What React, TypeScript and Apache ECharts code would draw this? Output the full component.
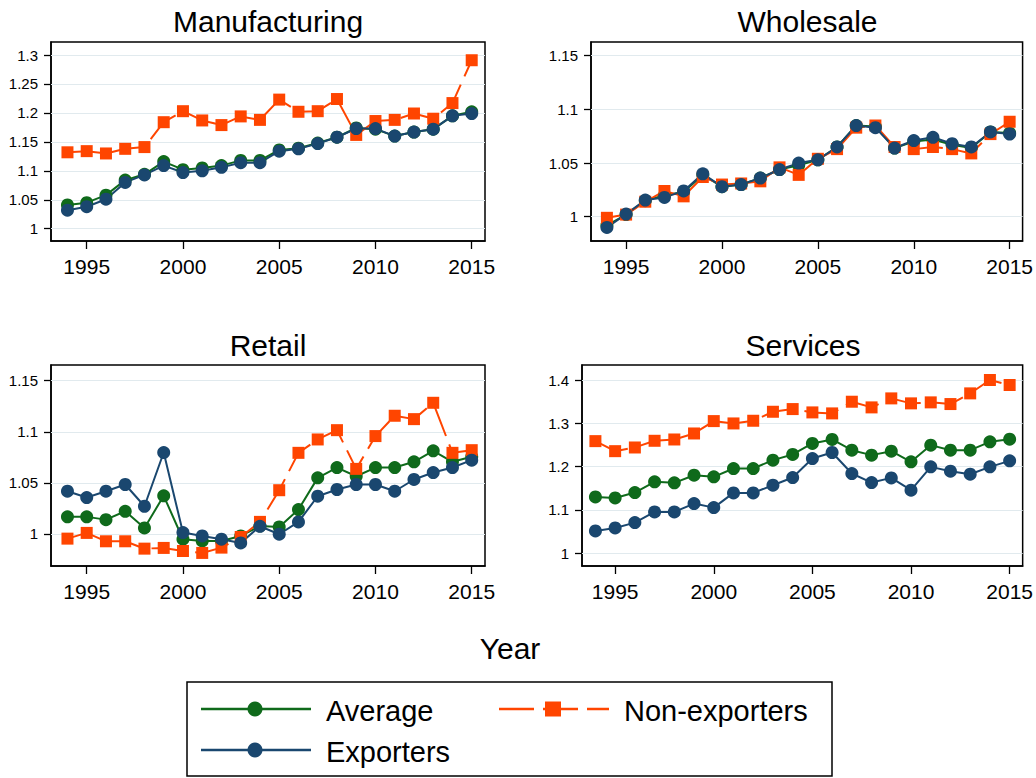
import React, { useEffect, useRef } from "react";
import * as echarts from "echarts";

const FONT = "'Liberation Sans', Arial, Helvetica, sans-serif";

const years = [1994, 1995, 1996, 1997, 1998, 1999, 2000, 2001, 2002, 2003, 2004, 2005, 2006, 2007, 2008, 2009, 2010, 2011, 2012, 2013, 2014, 2015];
const xTickYears = [1995, 2000, 2005, 2010, 2015];

const seriesNames = ["Average", "Non-exporters", "Exporters"];
const panelTitles = ["Manufacturing", "Wholesale", "Retail", "Services"];

// Manufacturing
const manufTicks = [1, 1.05, 1.1, 1.15, 1.2, 1.25, 1.3];
const manufAverage = [1.041, 1.045, 1.058, 1.084, 1.094, 1.116, 1.102, 1.105, 1.109, 1.118, 1.118, 1.136, 1.139, 1.148, 1.158, 1.174, 1.172, 1.160, 1.167, 1.172, 1.195, 1.202];
const manufExporters = [1.032, 1.038, 1.051, 1.080, 1.093, 1.109, 1.097, 1.100, 1.106, 1.114, 1.114, 1.134, 1.138, 1.147, 1.158, 1.173, 1.173, 1.160, 1.167, 1.172, 1.195, 1.199];
const manufNonExporters = [1.132, 1.134, 1.130, 1.138, 1.141, 1.184, 1.203, 1.187, 1.179, 1.194, 1.188, 1.223, 1.202, 1.203, 1.224, 1.162, 1.186, 1.188, 1.199, 1.190, 1.217, 1.291];

// Wholesale
const wholeTicks = [1, 1.05, 1.1, 1.15];
const wholeAverage = [0.992, 1.002, 1.015, 1.020, 1.023, 1.039, 1.028, 1.030, 1.036, 1.044, 1.048, 1.053, 1.065, 1.085, 1.084, 1.064, 1.070, 1.072, 1.067, 1.064, 1.079, 1.078];
const wholeExporters = [0.990, 1.0025, 1.0155, 1.018, 1.024, 1.040, 1.028, 1.030, 1.036, 1.044, 1.050, 1.053, 1.065, 1.085, 1.083, 1.064, 1.071, 1.074, 1.068, 1.065, 1.079, 1.077];
const wholeNonExporters = [0.999, 1.002, 1.014, 1.024, 1.019, 1.037, 1.030, 1.031, 1.033, 1.046, 1.039, 1.054, 1.063, 1.083, 1.085, 1.065, 1.063, 1.065, 1.063, 1.059, 1.077, 1.0885];

// Retail
const retailTicks = [1, 1.05, 1.1, 1.15];
const retailAverage = [1.0167, 1.0167, 1.014, 1.0222, 1.0059, 1.0373, 0.9948, 0.9931, 0.993, 0.998, 1.0078, 1.0069, 1.0239, 1.0549, 1.065, 1.0565, 1.065, 1.065, 1.0706, 1.0814, 1.0706, 1.0755];
const retailExporters = [1.0418, 1.0356, 1.0418, 1.0484, 1.0271, 1.0797, 1.0013, 0.998, 0.9948, 0.9912, 1.0075, 0.9997, 1.0118, 1.0369, 1.0435, 1.0484, 1.0484, 1.0418, 1.0533, 1.0601, 1.065, 1.0722];
const retailNonExporters = [0.9954, 1.001, 0.9928, 0.9928, 0.9856, 0.9863, 0.9833, 0.9814, 0.9866, 0.997, 1.0118, 1.0428, 1.0794, 1.0925, 1.1016, 1.0637, 1.0958, 1.1157, 1.1124, 1.1284, 1.0794, 1.082];

// Services
const servTicks = [1, 1.1, 1.2, 1.3, 1.4];
const servAverage = [1.1297, 1.1274, 1.1398, 1.1645, 1.1622, 1.1799, 1.1761, 1.1954, 1.1954, 1.2147, 1.2278, 1.2533, 1.2625, 1.2378, 1.2263, 1.2355, 1.2108, 1.2494, 1.2378, 1.2378, 1.2571, 1.2633];
const servExporters = [1.051, 1.0579, 1.0703, 1.095, 1.095, 1.1143, 1.105, 1.139, 1.139, 1.1568, 1.1745, 1.2185, 1.2324, 1.1838, 1.1629, 1.1737, 1.1452, 1.1992, 1.1892, 1.1822, 1.1992, 1.2131];
const servNonExporters = [1.2587, 1.2355, 1.244, 1.2595, 1.2625, 1.2764, 1.305, 1.2996, 1.3058, 1.3266, 1.3328, 1.3251, 1.3228, 1.3498, 1.3367, 1.3575, 1.346, 1.3483, 1.3444, 1.3691, 1.40, 1.3884];

const COLOR_AVG = "#0f6a1b";
const COLOR_EXP = "#1a476f";
const COLOR_NON = "#ff4500";
const GRID_COLOR = "#e1eaee";
const DASH = [35, 9];

const panelData = [
  { ticks: manufTicks, avg: manufAverage, exp: manufExporters, non: manufNonExporters },
  { ticks: wholeTicks, avg: wholeAverage, exp: wholeExporters, non: wholeNonExporters },
  { ticks: retailTicks, avg: retailAverage, exp: retailExporters, non: retailNonExporters },
  { ticks: servTicks, avg: servAverage, exp: servExporters, non: servNonExporters },
];

// layout (pixels) and axis extents for each panel
const panelLayout = [
  { left: 51, top: 42, width: 434, height: 199, xMin: 1993.145, xMax: 2015.69, yMin: 0.9788, yMax: 1.3225 },
  { left: 591, top: 42, width: 433, height: 199, xMin: 1993.17, xMax: 2015.675, yMin: 0.9774, yMax: 1.1628 },
  { left: 51, top: 365, width: 434, height: 201, xMin: 1993.145, xMax: 2015.69, yMin: 0.9686, yMax: 1.1654 },
  { left: 582, top: 365, width: 442, height: 201, xMin: 1993.32, xMax: 2015.66, yMin: 0.97, yMax: 1.4347 },
];

function fmt(v: number) {
  return String(parseFloat(v.toFixed(2)));
}

function buildOption() {
  const grid: any[] = [];
  const xAxis: any[] = [];
  const yAxis: any[] = [];
  const series: any[] = [];
  const graphic: any[] = [];

  panelLayout.forEach((L, i) => {
    const D = panelData[i];
    grid.push({
      left: L.left,
      top: L.top,
      width: L.width,
      height: L.height,
      show: true,
      borderColor: "#000",
      borderWidth: 1.5,
      backgroundColor: "#fff",
      containLabel: false,
    });
    xAxis.push({
      type: "value",
      gridIndex: i,
      min: L.xMin,
      max: L.xMax,
      axisLine: { show: true, lineStyle: { color: "#000", width: 1.5 } },
      axisTick: { show: true, inside: false, length: 8, customValues: xTickYears, lineStyle: { color: "#000", width: 1.3 } },
      axisLabel: {
        customValues: xTickYears,
        margin: 15,
        fontSize: 21,
        color: "#000",
        fontFamily: FONT,
        formatter: (v: number) => String(Math.round(v)),
      },
      splitLine: { show: false },
    });
    yAxis.push({
      type: "value",
      gridIndex: i,
      min: L.yMin,
      max: L.yMax,
      axisLine: { show: true, lineStyle: { color: "#000", width: 1.5 } },
      axisTick: { show: true, inside: false, length: 7, customValues: D.ticks, lineStyle: { color: "#000", width: 1.3 } },
      axisLabel: {
        customValues: D.ticks,
        margin: 13,
        fontSize: 15,
        color: "#000",
        fontFamily: FONT,
        formatter: (v: number) => fmt(v),
      },
      splitLine: { show: false },
    });

    const mk = (name: string, vals: number[], color: string, symbol: string, size: number, dashed: boolean, withGrid: boolean) => {
      const s: any = {
        type: "line",
        name,
        xAxisIndex: i,
        yAxisIndex: i,
        data: years.map((y, k) => [y, vals[k]]),
        symbol,
        symbolSize: size,
        showAllSymbol: true,
        lineStyle: { color, width: 2, type: dashed ? DASH : "solid" },
        itemStyle: { color },
        emphasis: { disabled: true },
        silent: true,
      };
      if (withGrid) {
        s.markLine = {
          silent: true,
          z: 1,
          symbol: ["none", "none"],
          label: { show: false },
          lineStyle: { color: GRID_COLOR, width: 1, type: "solid" },
          emphasis: { disabled: true },
          data: D.ticks.map((v) => ({ yAxis: v })),
        };
      }
      return s;
    };
    series.push(mk(seriesNames[0], D.avg, COLOR_AVG, "circle", 13, false, true));
    series.push(mk(seriesNames[1], D.non, COLOR_NON, "rect", 12, true, false));
    series.push(mk(seriesNames[2], D.exp, COLOR_EXP, "circle", 13, false, false));

    graphic.push({
      type: "text",
      x: L.left + L.width / 2,
      y: i < 2 ? 21 : 345,
      style: { text: panelTitles[i], fontSize: 30, fontFamily: FONT, fill: "#000", textAlign: "center", textVerticalAlign: "middle" },
    });
  });

  // x-axis title
  graphic.push({
    type: "text",
    x: 510,
    y: 648,
    style: { text: "Year", fontSize: 30, fontFamily: FONT, fill: "#000", textAlign: "center", textVerticalAlign: "middle" },
  });

  // legend
  graphic.push({
    type: "rect",
    shape: { x: 187, y: 682, width: 645, height: 94 },
    style: { fill: "#fff", stroke: "#000", lineWidth: 1.5 },
  });
  const legendItems = [
    { name: seriesNames[0], color: COLOR_AVG, x: 201, y: 709, symbol: "circle", dashed: false },
    { name: seriesNames[2], color: COLOR_EXP, x: 201, y: 750, symbol: "circle", dashed: false },
    { name: seriesNames[1], color: COLOR_NON, x: 499, y: 709, symbol: "rect", dashed: true },
  ];
  legendItems.forEach((it) => {
    graphic.push({
      type: "line",
      shape: { x1: it.x, y1: it.y, x2: it.x + 110, y2: it.y },
      style: { stroke: it.color, lineWidth: 2.5, lineDash: it.dashed ? DASH : null },
    });
    if (it.symbol === "circle") {
      graphic.push({ type: "circle", shape: { cx: it.x + 54, cy: it.y, r: 7.5 }, style: { fill: it.color } });
    } else {
      graphic.push({ type: "rect", shape: { x: it.x + 46, y: it.y - 7.5, width: 16, height: 15 }, style: { fill: it.color } });
    }
    graphic.push({
      type: "text",
      x: it.x + 125,
      y: it.y + 2,
      style: { text: it.name, fontSize: 29, fontFamily: FONT, fill: "#000", textAlign: "left", textVerticalAlign: "middle" },
    });
  });

  return {
    animation: false,
    backgroundColor: "#fff",
    grid,
    xAxis,
    yAxis,
    series,
    graphic,
  };
}

export default function App() {
  const ref = useRef<HTMLDivElement>(null);
  useEffect(() => {
    document.body.style.margin = "0";
    if (!ref.current) return;
    const chart = echarts.init(ref.current, null, { renderer: "svg" });
    chart.setOption(buildOption() as any);
    return () => {
      chart.dispose();
    };
  }, []);
  return <div ref={ref} style={{ width: 1036, height: 778 }} />;
}
